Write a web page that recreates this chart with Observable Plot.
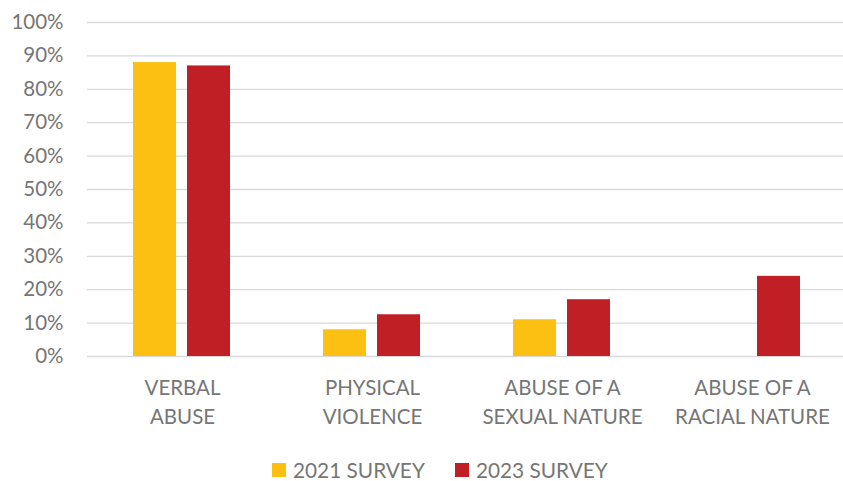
<!DOCTYPE html>
<html>
<head>
<meta charset="utf-8">
<script src="https://cdn.jsdelivr.net/npm/d3@7"></script>
<script src="https://cdn.jsdelivr.net/npm/@observablehq/plot@0.6"></script>
<style>
  body { margin: 0; background: #fff; font-family: Lato, "Open Sans", sans-serif; overflow: hidden; }
  #chart { height: 440px; }
  #legend { display: flex; align-items: center; margin-left: 272px; margin-top: 20px; height: 20px; line-height: 20px; font-size: 20.8px; color: #767676; }
  .item { display: flex; align-items: center; margin-right: 30px; }
  .sw { width: 14px; height: 14px; margin-right: 7px; }
</style>
</head>
<body>
<div id="chart"></div>
<div id="legend"></div>
<script>
const categories = ["VERBAL\nABUSE", "PHYSICAL\nVIOLENCE", "ABUSE OF A\nSEXUAL NATURE", "ABUSE OF A\nRACIAL NATURE"];
const seriesNames = ["2021 SURVEY", "2023 SURVEY"];
const colors = ["#FBC012", "#C01F26"];
const values2021 = [88, 8, 11, null];
const values2023 = [87, 12.5, 17, 24];
const yTicks = [0, 10, 20, 30, 40, 50, 60, 70, 80, 90, 100];

const data = [];
categories.forEach((c, i) => {
  if (values2021[i] != null) data.push({category: c, series: seriesNames[0], value: values2021[i]});
  if (values2023[i] != null) data.push({category: c, series: seriesNames[1], value: values2023[i]});
});

const chart = Plot.plot({
  width: 843,
  height: 440,
  marginTop: 22,
  marginBottom: 84,
  marginLeft: 87,
  marginRight: -4,
  style: {fontFamily: "Lato, 'Open Sans', sans-serif", fontSize: "20.5px", color: "#767676", background: "#fff", overflow: "hidden", display: "block"},
  fx: {domain: categories, padding: 0, label: null},
  x: {domain: seriesNames, paddingInner: 0.2037, paddingOuter: 0.861, axis: null},
  y: {domain: [0, 100], ticks: yTicks, label: null},
  color: {domain: seriesNames, range: colors},
  marks: [
    Plot.ruleY(yTicks, {stroke: "#d9d9d9", strokeWidth: 1.3}),
    Plot.barY(data, {fx: "category", x: "series", y: "value", fill: "series"}),
    Plot.axisY({ticks: yTicks, tickFormat: d => d + "%", tickSize: 0, tickPadding: 24, label: null, fill: "#767676"}),
    Plot.axisFx({anchor: "bottom", tickSize: 0, tickPadding: 18, lineHeight: 1.42, label: null, fill: "#767676"})
  ]
});
document.getElementById("chart").appendChild(chart);

const legend = document.getElementById("legend");
seriesNames.forEach((s, i) => {
  const it = document.createElement("div");
  it.className = "item";
  it.innerHTML = `<div class="sw" style="background:${colors[i]}"></div><span>${s}</span>`;
  legend.appendChild(it);
});
</script>
</body>
</html>
